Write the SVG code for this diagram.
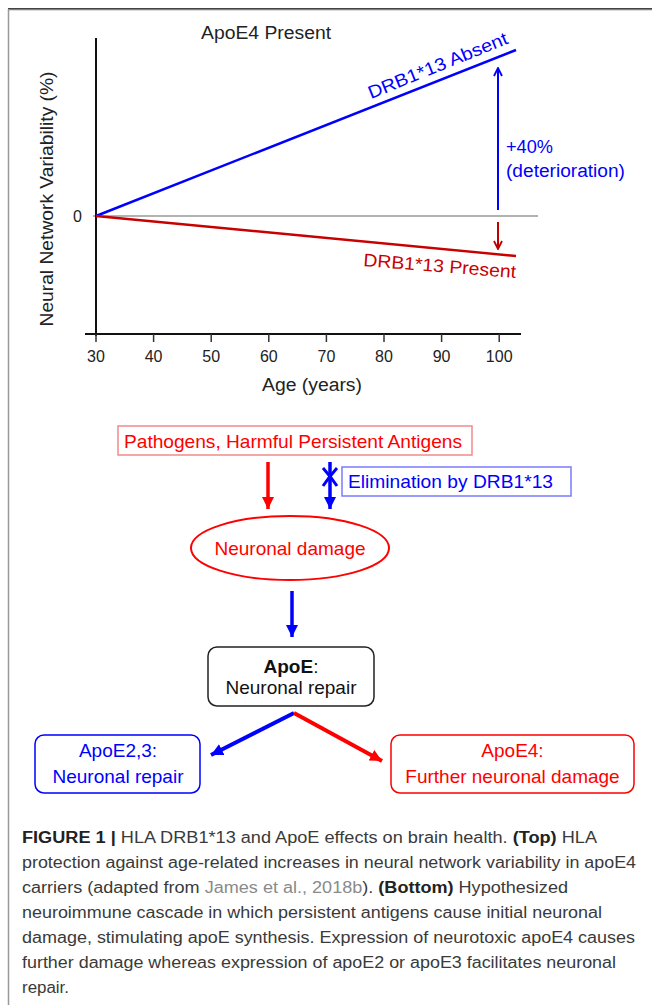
<svg xmlns="http://www.w3.org/2000/svg" width="652" height="1005" viewBox="0 0 652 1005">
<style>
text{font-family:"Liberation Sans",Arial,sans-serif}
.ax{stroke:#111;stroke-width:2;fill:none}
.tick{stroke:#333;stroke-width:1.5}
.tl{font-size:16px;fill:#222;text-anchor:middle}
.lab{font-size:18px;fill:#222}
.fc{font-size:19px}
.cap{font-size:16px;fill:#3a3a3a}
.b{font-weight:bold;fill:#222}
</style>
<defs>
<marker id="hb" viewBox="0 0 12 12" refX="12" refY="6" markerWidth="12" markerHeight="12" markerUnits="userSpaceOnUse" orient="auto"><path d="M0,0 L12,6 L0,12 z" fill="#0000ff"/></marker>
<marker id="hr" viewBox="0 0 12 12" refX="12" refY="6" markerWidth="12" markerHeight="12" markerUnits="userSpaceOnUse" orient="auto"><path d="M0,0 L12,6 L0,12 z" fill="#ff0000"/></marker>
<marker id="ob" viewBox="0 0 10 10" refX="9" refY="5" markerWidth="10" markerHeight="10" markerUnits="userSpaceOnUse" orient="auto"><path d="M1,1 L9,5 L1,9" fill="none" stroke="#0000ff" stroke-width="1.8"/></marker>
<marker id="or" viewBox="0 0 10 10" refX="9" refY="5" markerWidth="10" markerHeight="10" markerUnits="userSpaceOnUse" orient="auto"><path d="M1,1 L9,5 L1,9" fill="none" stroke="#c00000" stroke-width="1.8"/></marker>
</defs>
<rect width="652" height="1005" fill="#fff"/>
<!-- frame -->
<line x1="8" y1="9" x2="652" y2="9" stroke="#444" stroke-width="2"/>
<line x1="8" y1="10" x2="652" y2="10" stroke="#bbb" stroke-width="1"/>
<line x1="8.5" y1="9" x2="8.5" y2="1005" stroke="#999" stroke-width="1.5"/>

<!-- chart -->
<g id="chart">
<line x1="93" y1="216" x2="538" y2="216" stroke="#999" stroke-width="1.5"/>
<line class="ax" x1="96" y1="38" x2="96" y2="336"/>
<line class="ax" x1="85" y1="334" x2="521" y2="334" stroke="#333"/>
<g class="tick">
<line x1="96" y1="334" x2="96" y2="342"/><line x1="153.6" y1="334" x2="153.6" y2="342"/><line x1="211.2" y1="334" x2="211.2" y2="342"/><line x1="268.8" y1="334" x2="268.8" y2="342"/><line x1="326.4" y1="334" x2="326.4" y2="342"/><line x1="384" y1="334" x2="384" y2="342"/><line x1="441.6" y1="334" x2="441.6" y2="342"/><line x1="499.2" y1="334" x2="499.2" y2="342"/>
</g>
<text class="tl" x="96" y="362">30</text><text class="tl" x="153.6" y="362">40</text><text class="tl" x="211.2" y="362">50</text><text class="tl" x="268.8" y="362">60</text><text class="tl" x="326.4" y="362">70</text><text class="tl" x="384" y="362">80</text><text class="tl" x="441.6" y="362">90</text><text class="tl" x="499.2" y="362">100</text>
<text class="tl" x="77.5" y="222">0</text>
<text class="lab" x="312" y="391" text-anchor="middle" textLength="100" lengthAdjust="spacingAndGlyphs">Age (years)</text>
<text class="lab" transform="translate(53,199) rotate(-90)" text-anchor="middle" textLength="255" lengthAdjust="spacingAndGlyphs">Neural Network Variability (%)</text>
<text class="lab" x="201" y="39" textLength="130" lengthAdjust="spacingAndGlyphs">ApoE4 Present</text>
<line x1="96" y1="216" x2="516" y2="50" stroke="#0000ff" stroke-width="2.5"/>
<line x1="96" y1="216" x2="516" y2="256" stroke="#c80000" stroke-width="2.5"/>
<text class="lab" fill="#0000ff" style="fill:#0000ff" transform="translate(371,99) rotate(-22)" textLength="149" lengthAdjust="spacingAndGlyphs">DRB1*13 Absent</text>
<text class="lab" style="fill:#c80000" transform="translate(363,266) rotate(4.5)" textLength="153" lengthAdjust="spacingAndGlyphs">DRB1*13 Present</text>
<line x1="498" y1="210" x2="498" y2="68" stroke="#0000ff" stroke-width="2" marker-end="url(#ob)"/>
<line x1="498" y1="222" x2="498" y2="249" stroke="#c00000" stroke-width="2" marker-end="url(#or)"/>
<text class="lab" style="fill:#0000ff" x="506" y="153" textLength="47" lengthAdjust="spacingAndGlyphs">+40%</text>
<text class="lab" style="fill:#0000ff" x="506" y="177" textLength="119" lengthAdjust="spacingAndGlyphs">(deterioration)</text>
</g>

<!-- flowchart nodes -->
<g id="pathogens">
<rect x="118" y="426" width="354" height="29" fill="none" stroke="#f08a8a" stroke-width="1.5"/>
<text class="fc" x="124" y="448" fill="#ff0000" textLength="338" lengthAdjust="spacingAndGlyphs">Pathogens, Harmful Persistent Antigens</text>
</g>
<g id="elimination">
<rect x="342" y="467" width="229" height="29" fill="none" stroke="#7a7aff" stroke-width="1.5"/>
<text class="fc" x="348" y="488" fill="#0000ff" textLength="205" lengthAdjust="spacingAndGlyphs">Elimination by DRB1*13</text>
</g>
<g id="damage">
<ellipse cx="290" cy="548" rx="99" ry="32" fill="none" stroke="#ff0000" stroke-width="2"/>
<text class="fc" x="290" y="555" fill="#ff0000" text-anchor="middle">Neuronal damage</text>
</g>
<g id="apoe">
<rect x="208" y="647" width="166" height="59" rx="9" fill="none" stroke="#222" stroke-width="1.5"/>
<text class="fc" x="291" y="673" fill="#111" text-anchor="middle"><tspan font-weight="bold">ApoE</tspan>:</text>
<text class="fc" x="291" y="694" fill="#111" text-anchor="middle">Neuronal repair</text>
</g>
<g id="apoe23">
<rect x="35" y="735" width="165" height="58" rx="9" fill="none" stroke="#0000ff" stroke-width="1.5"/>
<text class="fc" x="118" y="757" fill="#0000ff" text-anchor="middle">ApoE2,3:</text>
<text class="fc" x="118" y="783" fill="#0000ff" text-anchor="middle">Neuronal repair</text>
</g>
<g id="apoe4">
<rect x="391" y="735" width="243" height="58" rx="9" fill="none" stroke="#ff0000" stroke-width="1.5"/>
<text class="fc" x="512.5" y="757" fill="#ff0000" text-anchor="middle">ApoE4:</text>
<text class="fc" x="512.5" y="783" fill="#ff0000" text-anchor="middle">Further neuronal damage</text>
</g>

<!-- connectors -->
<g id="connectors">
<line x1="268" y1="462" x2="268" y2="509" stroke="#ff0000" stroke-width="3.5" marker-end="url(#hr)"/>
<line x1="330" y1="462" x2="330" y2="509" stroke="#0000ff" stroke-width="3.5" marker-end="url(#hb)"/>
<path d="M323,468 Q331,477 337,486 M337,468 Q329,477 323,486" fill="none" stroke="#0000ff" stroke-width="3"/>
<line x1="292" y1="591" x2="292" y2="637" stroke="#0000ff" stroke-width="3.5" marker-end="url(#hb)"/>
<line x1="294" y1="713" x2="211" y2="755" stroke="#0000ff" stroke-width="4" marker-end="url(#hb)"/>
<line x1="294" y1="713" x2="382" y2="761" stroke="#ff0000" stroke-width="4" marker-end="url(#hr)"/>
</g>

<!-- caption -->
<g id="caption">
<text class="cap" x="22" y="843" textLength="575" lengthAdjust="spacingAndGlyphs"><tspan class="b">FIGURE 1 |</tspan> HLA DRB1*13 and ApoE effects on brain health. <tspan class="b">(Top)</tspan> HLA</text>
<text class="cap" x="22" y="868" textLength="614" lengthAdjust="spacingAndGlyphs">protection against age-related increases in neural network variability in apoE4</text>
<text class="cap" x="22" y="893" textLength="546" lengthAdjust="spacingAndGlyphs">carriers (adapted from <tspan fill="#8a8a8a">James et al., 2018b</tspan>). <tspan class="b">(Bottom)</tspan> Hypothesized</text>
<text class="cap" x="22" y="918" textLength="580" lengthAdjust="spacingAndGlyphs">neuroimmune cascade in which persistent antigens cause initial neuronal</text>
<text class="cap" x="22" y="943" textLength="613" lengthAdjust="spacingAndGlyphs">damage, stimulating apoE synthesis. Expression of neurotoxic apoE4 causes</text>
<text class="cap" x="22" y="968" textLength="594" lengthAdjust="spacingAndGlyphs">further damage whereas expression of apoE2 or apoE3 facilitates neuronal</text>
<text class="cap" x="22" y="993" textLength="47" lengthAdjust="spacingAndGlyphs">repair.</text>
</g>
</svg>
